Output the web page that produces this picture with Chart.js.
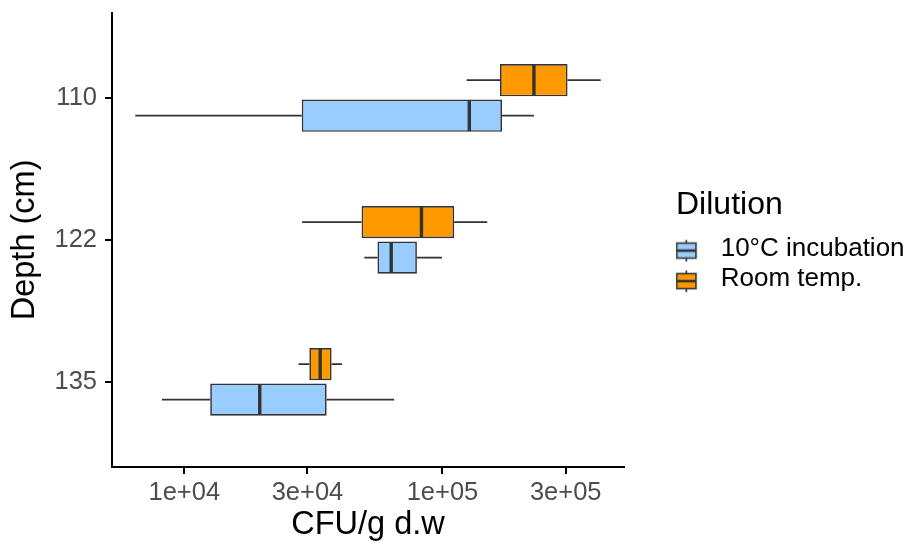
<!DOCTYPE html>
<html>
<head>
<meta charset="utf-8">
<script src="https://cdn.jsdelivr.net/npm/chart.js@4.4.1/dist/chart.umd.min.js"></script>
<style>
  html, body { margin: 0; padding: 0; background: #ffffff; }
  #wrap { position: relative; width: 909px; height: 544px; }
</style>
</head>
<body>
<div id="wrap"><canvas id="chart"></canvas></div>
<script>
// ---- data ----
const depthLabels = ['110', '122', '135'];
const seriesNames = ['10°C incubation', 'Room temp.'];

// 10°C incubation, per depth (110, 122, 135)
const coldMin    = [6460,   49800, 8200];
const coldQ1     = [28500,  56000, 12600];
const coldMedian = [127000, 63300, 19600];
const coldQ3     = [170000, 79600, 35600];
const coldMax    = [226000, 99500, 65000];

// Room temp., per depth (110, 122, 135)
const roomMin    = [124000, 28600,  27700];
const roomQ1     = [167000, 48600,  30500];
const roomMedian = [226000, 82900,  33600];
const roomQ3     = [305000, 111000, 37200];
const roomMax    = [410000, 149000, 40800];

const xTickValues = [1e4, 3e4, 1e5, 3e5];
const xTickLabels = ['1e+04', '3e+04', '1e+05', '3e+05'];

// ---- styles ----
const FONT = "'Liberation Sans', Arial, Helvetica, sans-serif";
const COLD_FILL = '#99CCFF';
const ROOM_FILL = '#FF9900';
const LINE_COL = '#333333';

// axis limits: data range with 5% expansion in log space
const allLo = Math.min(...coldMin, ...roomMin);
const allHi = Math.max(...coldMax, ...roomMax);
const lLo = Math.log10(allLo), lHi = Math.log10(allHi);
const span = lHi - lLo;
const xMin = Math.pow(10, lLo - 0.05 * span);
const xMax = Math.pow(10, lHi + 0.05 * span);

// datasets: Room temp. first so it sits on the upper half of each band
const stats = [
  { name: seriesNames[1], fill: ROOM_FILL, min: roomMin, q1: roomQ1, med: roomMedian, q3: roomQ3, max: roomMax },
  { name: seriesNames[0], fill: COLD_FILL, min: coldMin, q1: coldQ1, med: coldMedian, q3: coldQ3, max: coldMax }
];

const datasets = stats.map(s => ({
  label: s.name,
  data: depthLabels.map((d, i) => ({ y: i + 1, x: [s.q1[i], s.q3[i]] })),
  backgroundColor: s.fill,
  borderColor: LINE_COL,
  borderWidth: 1.7,
  borderSkipped: false,
  categoryPercentage: 0.5,
  barPercentage: 0.91
}));

function legendGlyph(fill) {
  const c = document.createElement('canvas');
  c.width = 40; c.height = 30;
  const g = c.getContext('2d');
  const x0 = 2.6, w = 19.3;
  const cx = x0 + w / 2;
  g.strokeStyle = LINE_COL;
  g.lineWidth = 1.6;
  g.beginPath(); g.moveTo(cx, 6.3); g.lineTo(cx, 28); g.stroke();
  g.fillStyle = fill;
  g.fillRect(x0, 9.5, w, 15);
  g.strokeRect(x0, 9.5, w, 15);
  g.lineWidth = 2.6;
  g.beginPath(); g.moveTo(x0, 17); g.lineTo(x0 + w, 17); g.stroke();
  return c;
}

const boxPlugin = {
  id: 'boxWhiskers',
  beforeDatasetsDraw(chart) {
    const ctx = chart.ctx, xs = chart.scales.x;
    ctx.save();
    ctx.strokeStyle = LINE_COL;
    ctx.lineWidth = 1.8;
    stats.forEach((s, d) => {
      const meta = chart.getDatasetMeta(d);
      meta.data.forEach((bar, i) => {
        const y = bar.getProps(['y'], true).y;
        ctx.beginPath();
        ctx.moveTo(xs.getPixelForValue(s.min[i]), y);
        ctx.lineTo(xs.getPixelForValue(s.q1[i]), y);
        ctx.moveTo(xs.getPixelForValue(s.q3[i]), y);
        ctx.lineTo(xs.getPixelForValue(s.max[i]), y);
        ctx.stroke();
      });
    });
    ctx.restore();
  },
  afterDatasetsDraw(chart) {
    const ctx = chart.ctx, xs = chart.scales.x;
    ctx.save();
    ctx.strokeStyle = LINE_COL;
    ctx.lineWidth = 3.4;
    stats.forEach((s, d) => {
      const meta = chart.getDatasetMeta(d);
      meta.data.forEach((bar, i) => {
        const p = bar.getProps(['y', 'height'], true);
        const mx = xs.getPixelForValue(s.med[i]);
        ctx.beginPath();
        ctx.moveTo(mx, p.y - p.height / 2 + 0.8);
        ctx.lineTo(mx, p.y + p.height / 2 - 0.8);
        ctx.stroke();
      });
    });
    ctx.restore();
  }
};

const glyphs = [legendGlyph(COLD_FILL), legendGlyph(ROOM_FILL)];

new Chart(document.getElementById('chart'), {
  type: 'bar',
  data: { datasets },
  plugins: [boxPlugin],
  options: {
    indexAxis: 'y',
    responsive: true,
    maintainAspectRatio: false,
    animation: false,
    layout: { padding: { top: 12.8, left: 0, right: 0, bottom: 0 } },
    scales: {
      x: {
        type: 'logarithmic',
        position: 'bottom',
        min: xMin,
        max: xMax,
        offset: false,
        afterBuildTicks: s => { s.ticks = xTickValues.map(v => ({ value: v })); },
        ticks: {
          callback: (v, i) => xTickLabels[i],
          font: { family: FONT, size: 25.5 },
          color: '#4D4D4D',
          padding: 3.7,
          maxRotation: 0,
          autoSkip: false
        },
        grid: { display: true, offset: false, drawOnChartArea: false, drawTicks: true, tickLength: 7, lineWidth: 2, color: '#000000' },
        border: { display: true, color: '#000000', width: 2 },
        title: { display: true, text: 'CFU/g d.w', color: '#000000', font: { family: FONT, size: 32.5, lineHeight: 1 }, padding: { top: 0, bottom: 2.7 } },
        afterFit: s => { s.height = 77; s.paddingLeft = 0; s.paddingRight = 0; }
      },
      y: {
        type: 'linear',
        position: 'left',
        min: 0.4,
        max: 3.6,
        reverse: true,
        offset: false,
        afterBuildTicks: s => { s.ticks = depthLabels.map((d, i) => ({ value: i + 1 })); },
        ticks: {
          callback: (v, i) => depthLabels[i],
          font: { family: FONT, size: 25.5 },
          color: '#4D4D4D',
          padding: 8,
          autoSkip: false
        },
        grid: { display: true, offset: false, drawOnChartArea: false, drawTicks: true, tickLength: 7, lineWidth: 2, color: '#000000' },
        border: { display: true, color: '#000000', width: 2 },
        title: { display: true, text: 'Depth (cm)', color: '#000000', font: { family: FONT, size: 32.5, lineHeight: 1 }, padding: { top: 8.8, bottom: 0 } },
        afterFit: s => { s.width = 112; s.paddingTop = 0; s.paddingBottom = 0; }
      },
      gap: {
        type: 'linear',
        position: 'right',
        display: true,
        grid: { display: false, drawTicks: false },
        ticks: { display: false },
        border: { display: false },
        afterFit: s => { s.width = 52; s.paddingTop = 0; s.paddingBottom = 0; }
      }
    },
    plugins: {
      tooltip: { enabled: false },
      legend: {
        display: true,
        position: 'right',
        align: 'center',
        fullSize: false,
        maxWidth: 233,
        title: {
          display: true,
          text: 'Dilution',
          position: 'start',
          color: '#000000',
          font: { family: FONT, size: 32 },
          padding: { top: 6.3, bottom: 3.2 }
        },
        labels: {
          usePointStyle: true,
          pointStyleWidth: 27.2,
          padding: 4.5,
          color: '#000000',
          font: { family: FONT, size: 26 },
          generateLabels: () => seriesNames.map((n, k) => ({
            text: n,
            fillStyle: k === 0 ? COLD_FILL : ROOM_FILL,
            strokeStyle: LINE_COL,
            lineWidth: 1.5,
            pointStyle: glyphs[k],
            hidden: false,
            datasetIndex: k === 0 ? 1 : 0
          }))
        }
      }
    }
  }
});
</script>
</body>
</html>
